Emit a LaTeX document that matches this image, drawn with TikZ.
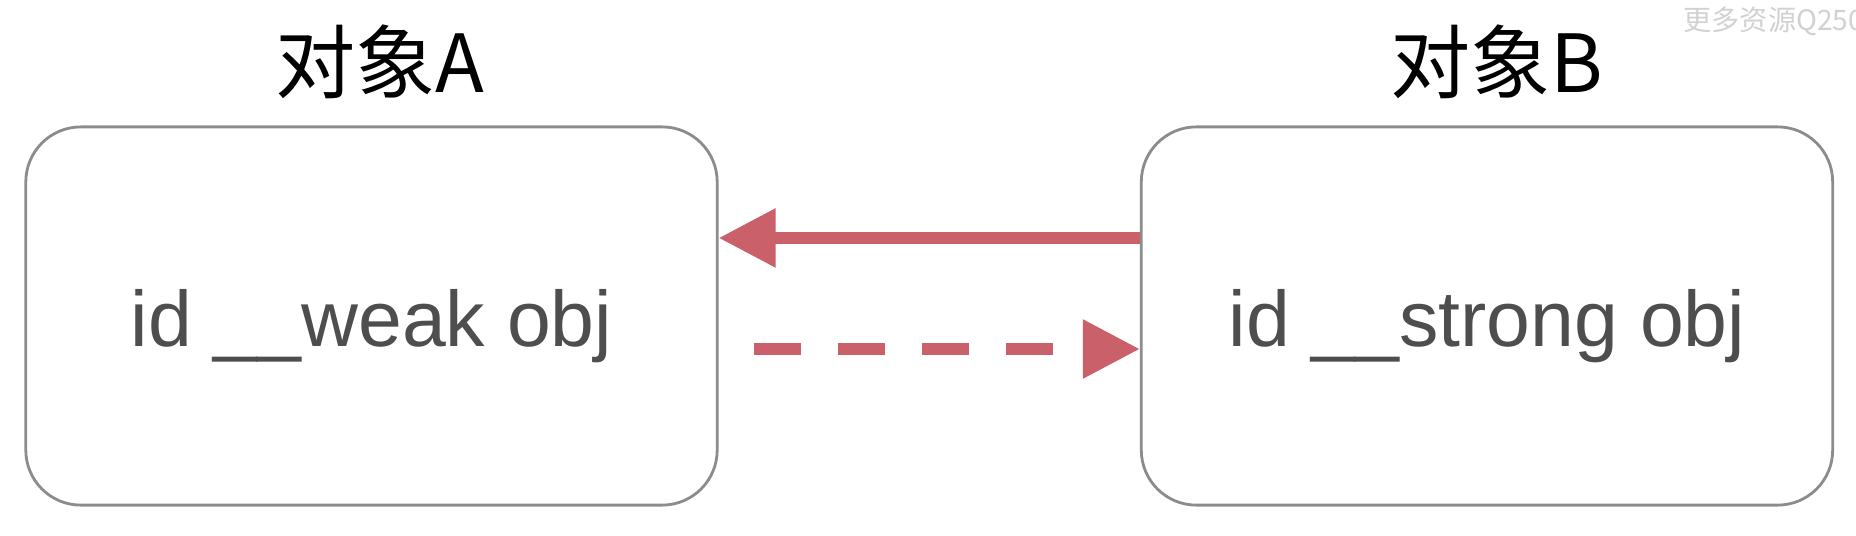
\documentclass[tikz,border=0pt]{standalone}
\usepackage{fontspec}
\setmainfont{Liberation Sans}
\newfontfamily\cjk{Noto Sans CJK SC}
\usepackage{tikz}
\usetikzlibrary{arrows.meta}
\definecolor{linkred}{RGB}{201,96,106}
\definecolor{boxgray}{RGB}{140,140,140}
\definecolor{fieldgray}{RGB}{78,78,78}

\begin{document}
\begin{tikzpicture}[x=0.01cm, y=-0.01cm,
        objbox/.style={draw=boxgray, line width=0.8pt, rounded corners=0.55cm,
            minimum width=6.91cm, minimum height=3.78cm, text=fieldgray,
            text height=0.77cm, font=\fontsize{22.4}{26}\selectfont},
        objtitle/.style={font=\cjk\fontsize{22.8}{26}\selectfont},
        refarrow/.style={color=linkred, line width=3.4pt,
            -{Triangle[length=0.57cm, width=0.56cm]}}]
        \useasboundingbox (0,0) rectangle (1856,536);
        \node[font=\cjk\fontsize{8}{10}\selectfont, text=black!18, anchor=west, inner sep=0pt] (mark) at (1683,21) {更多资源Q250};
        \node[objtitle] (titleA) at (380,62) {对象A};
        \node[objtitle] (titleB) at (1497,62) {对象B};
        \node[objbox] (boxA) at (371.5,316) {id \_\_weak obj};
        \node[objbox] (boxB) at (1487,316) {id \_\_strong obj};
        \draw[refarrow] ([yshift=0.78cm]boxB.west) -- ([yshift=0.78cm]boxA.east);
        \draw[refarrow, dash pattern=on 0.47cm off 0.37cm] ([xshift=0.35cm, yshift=-0.33cm]boxA.east) -- ([yshift=-0.33cm]boxB.west);
    \end{tikzpicture}
\end{document}
